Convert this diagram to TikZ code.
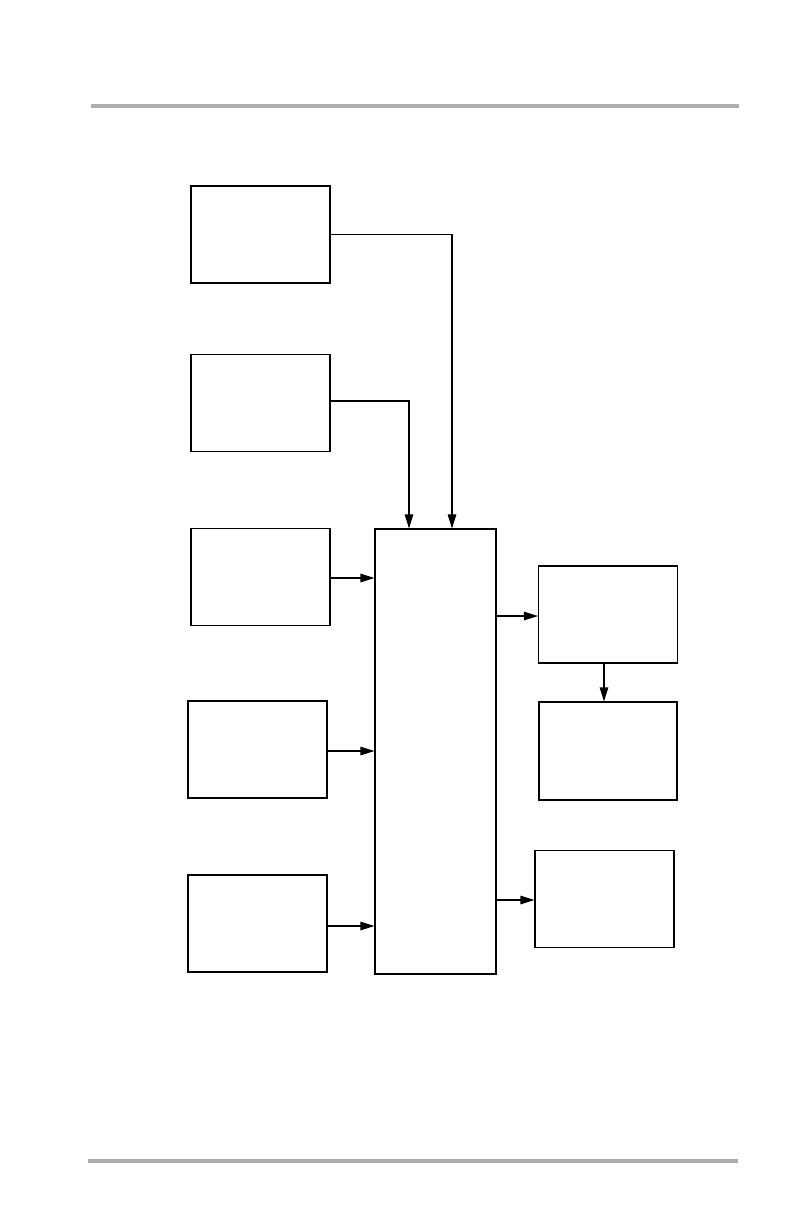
\documentclass[tikz,border=0pt]{standalone}
\usepackage{tikz}
\usetikzlibrary{positioning, arrows.meta, calc}
\definecolor{rulegray}{HTML}{ADADAD}

\begin{document}
\begin{tikzpicture}[x=1pt, y=-1pt,
  blk/.style={draw, line width=1.1pt, inner sep=0pt, minimum width=139pt, minimum height=97pt},
  arr/.style={line width=1.1pt, -{Triangle[length=14pt, width=8.5pt]}},
  pagerule/.style={draw=rulegray, line width=4pt}]
  \useasboundingbox (0,0) rectangle (794,1224);

  % page rules
  \draw[pagerule] (91,106) -- (739,106);
  \draw[pagerule] (88,1161) -- (738,1161);

  % inputs on the left
  \node[blk] (in1) at (260.5,234.5) {};
  \node[blk] (in2) at (260.5,403) {};
  \node[blk] (in3) at (260.5,577) {};
  \node[blk] (in4) at (257.5,749.5) {};
  \node[blk] (in5) at (257.5,923.5) {};

  % central unit
  \node[blk, minimum width=121pt, minimum height=445pt] (core) at (435.5,751.5) {};

  % outputs on the right
  \node[blk] (out1) at (608,614.5) {};
  \node[blk, minimum width=138pt, minimum height=98pt] (out2) at (608,751) {};
  \node[blk] (out3) at (604.5,899) {};

  % connectors
  \draw[arr] (in1.east) -| ([xshift=16.5pt]core.north);
  \draw[arr] ([yshift=2pt]in2.east) -| ([xshift=-26.5pt]core.north);
  \draw[arr] ([yshift=-1pt]in3.east) -- ([yshift=-1pt]in3.east -| core.west);
  \draw[arr] ([yshift=-1.5pt]in4.east) -- ([yshift=-1.5pt]in4.east -| core.west);
  \draw[arr] ([yshift=-2.5pt]in5.east) -- ([yshift=-2.5pt]in5.east -| core.west);
  \draw[arr] ([yshift=-1.5pt]out1.west -| core.east) -- ([yshift=-1.5pt]out1.west);
  \draw[arr] ([xshift=-4pt]out1.south) -- ([xshift=-4pt]out1.south |- out2.north);
  \draw[arr] ([yshift=-1pt]out3.west -| core.east) -- ([yshift=-1pt]out3.west);
\end{tikzpicture}
\end{document}
